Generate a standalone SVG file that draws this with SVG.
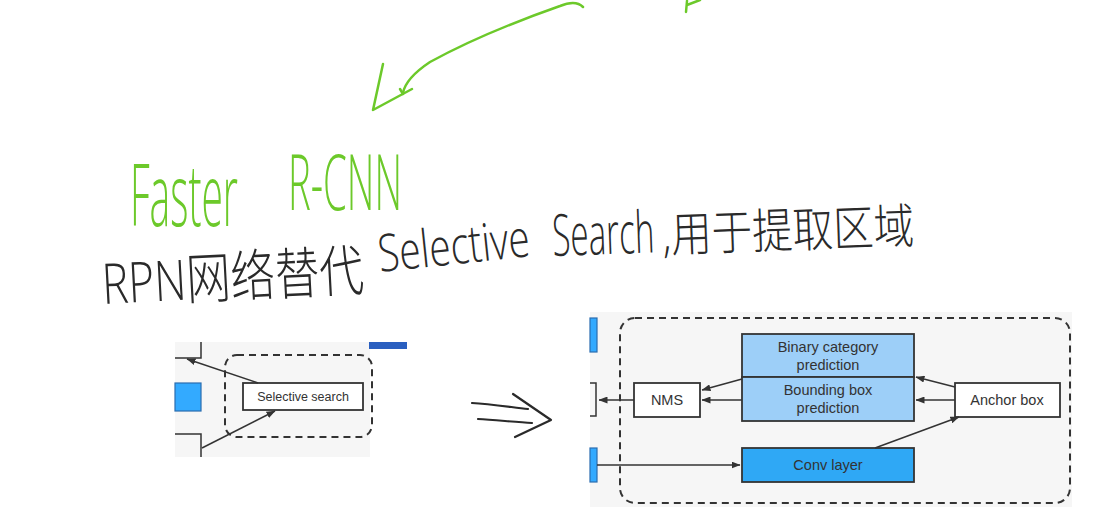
<svg xmlns="http://www.w3.org/2000/svg" width="1118" height="512" viewBox="0 0 1118 512">
<defs>
<style>
.hw-green{fill:#6cc92a;font-family:"Open Sans","Noto Sans",sans-serif;font-weight:300}
.hw-black{fill:#2a2a2a;font-family:"Open Sans","Noto Sans CJK SC",sans-serif;font-weight:300}
.ink-g{fill:none;stroke:#6cc92a;stroke-width:2.5;stroke-linecap:round;stroke-linejoin:round}
.ink-k{fill:none;stroke:#2a2a2a;stroke-width:2.2;stroke-linecap:round;stroke-linejoin:round}
.panel{fill:#f6f6f6}
.dash{fill:none;stroke:#333;stroke-width:2;stroke-dasharray:7,5}
.box{fill:#fff;stroke:#333;stroke-width:1.8}
.lite{fill:#9dcff8;stroke:#333;stroke-width:1.8}
.deep{fill:#2fa8f5;stroke:#333;stroke-width:1.8}
.lbl{font-family:"Liberation Sans",Arial,sans-serif;fill:#333;text-anchor:middle}
.edge{fill:none;stroke:#333;stroke-width:1.5}
</style>
<marker id="ah" markerWidth="9" markerHeight="7" refX="8.5" refY="3.5" orient="auto" markerUnits="userSpaceOnUse">
<path d="M0,0 L9,3.5 L0,7 Z" fill="#333"/>
</marker>
</defs>
<rect width="1118" height="512" fill="#fff"/>

<g id="green-arrow">
<path class="ink-g" d="M583,7 C578,2 570,2 560,6 C520,20 470,40 430,62 C415,72 405,82 403,93"/>
<path class="ink-g" d="M383,64 L373,110 L412,89"/>
<path class="ink-g" d="M400,89 L403,94"/>
<path class="ink-g" d="M686,12 L687,1 M687,5 L700,0"/>
</g>

<g id="title">
<text class="hw-green" x="0" y="0" font-size="86" textLength="240" lengthAdjust="spacingAndGlyphs" transform="translate(130 226) scale(0.45 1)">Faster</text>
<text class="hw-green" x="0" y="0" font-size="78" textLength="236" lengthAdjust="spacingAndGlyphs" transform="translate(288 210) scale(0.483 1)">R-CNN</text>
</g>

<g id="note">
<text class="hw-black" x="103" y="304" font-size="56" textLength="262" lengthAdjust="spacingAndGlyphs" transform="rotate(-3 103 304)">RPN网络替代</text>
<text class="hw-black" x="380" y="272" font-size="52" textLength="152" lengthAdjust="spacingAndGlyphs" transform="rotate(-6 380 272)">Selective</text>
<text class="hw-black" x="553" y="256" font-size="58" textLength="102" lengthAdjust="spacingAndGlyphs" transform="rotate(-2 553 256)">Search</text>
<text class="hw-black" x="663" y="252" font-size="48" textLength="252" lengthAdjust="spacingAndGlyphs" transform="rotate(-2 663 252)">,用于提取区域</text>
</g>

<g id="double-arrow">
<path class="ink-k" d="M472,403 C490,404 510,407 528,409"/>
<path class="ink-k" d="M478,419 C495,420 515,422 532,423"/>
<path class="ink-k" d="M513,394 L551,420 L515,437"/>
</g>

<g id="left-panel">
<rect class="panel" x="175" y="342" width="195" height="115"/>
<rect x="369" y="342" width="38" height="7" fill="#2a5fc0"/>
<path class="edge" d="M175,358 H201 V342 M175,434 H201 V457" stroke-width="1.8"/>
<rect x="175" y="383" width="26" height="28" fill="#33aaff" stroke="#2a6db0" stroke-width="1.2"/>
<rect class="dash" x="225" y="355" width="147" height="82" rx="12"/>
<g id="selective-search">
<rect class="box" x="243" y="383" width="120" height="27"/>
<text class="lbl" x="303" y="401" font-size="12.5">Selective search</text>
</g>
</g>

<g id="right-panel">
<rect class="panel" x="590" y="312" width="482" height="195"/>
<rect x="590" y="318" width="7" height="34" fill="#33aaff" stroke="#2a6db0" stroke-width="1.2"/>
<rect x="590" y="448" width="7" height="34" fill="#33aaff" stroke="#2a6db0" stroke-width="1.2"/>
<path class="edge" d="M590,383 H596 V416 H590" stroke-width="1.8"/>
<rect class="dash" x="620" y="318" width="450" height="185" rx="15"/>
</g>

<g id="binary-category">
<rect class="lite" x="742" y="334" width="172" height="43"/>
<text class="lbl" x="828" y="352" font-size="14.5">Binary category</text>
<text class="lbl" x="828" y="370" font-size="14.5">prediction</text>
</g>
<g id="bounding-box">
<rect class="lite" x="742" y="377" width="172" height="44"/>
<text class="lbl" x="828" y="395" font-size="14.5">Bounding box</text>
<text class="lbl" x="828" y="413" font-size="14.5">prediction</text>
</g>
<g id="conv-layer">
<rect class="deep" x="742" y="448" width="172" height="34"/>
<text class="lbl" x="828" y="470" font-size="14.5">Conv layer</text>
</g>
<g id="nms">
<rect class="box" x="634" y="383" width="66" height="34"/>
<text class="lbl" x="667" y="405" font-size="14.5">NMS</text>
</g>
<g id="anchor-box">
<rect class="box" x="955" y="383" width="105" height="34"/>
<text class="lbl" x="1007" y="405" font-size="14.5">Anchor box</text>
</g>

<g id="connectors">
<line class="edge" x1="258" y1="383" x2="187" y2="359" marker-end="url(#ah)"/>
<line class="edge" x1="202" y1="448" x2="275" y2="411" marker-end="url(#ah)"/>
<line class="edge" x1="634" y1="400" x2="599" y2="400" marker-end="url(#ah)"/>
<line class="edge" x1="742" y1="379" x2="702" y2="390" marker-end="url(#ah)"/>
<line class="edge" x1="742" y1="400" x2="702" y2="400" marker-end="url(#ah)"/>
<line class="edge" x1="955" y1="387" x2="916" y2="377" marker-end="url(#ah)"/>
<line class="edge" x1="955" y1="400" x2="916" y2="400" marker-end="url(#ah)"/>
<line class="edge" x1="875" y1="448" x2="959" y2="417" marker-end="url(#ah)"/>
<line class="edge" x1="597" y1="465" x2="740" y2="465" marker-end="url(#ah)"/>
</g>
</svg>
